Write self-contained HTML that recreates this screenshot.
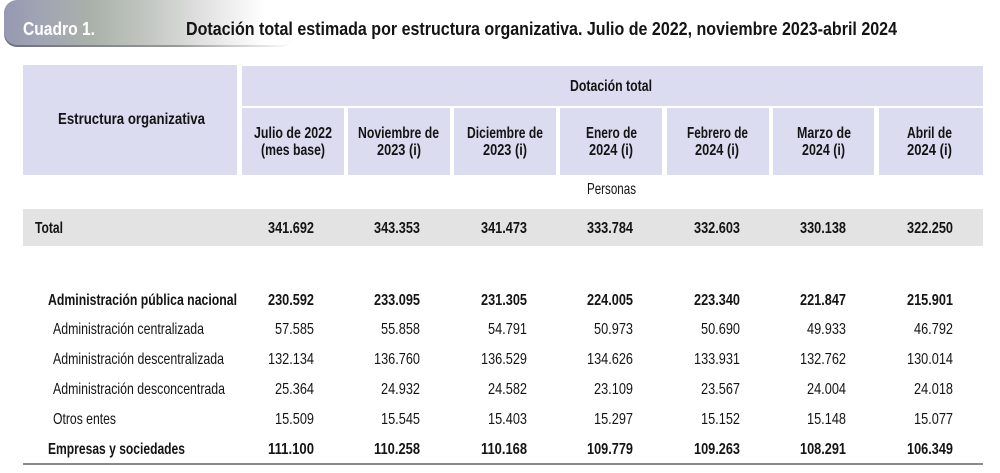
<!DOCTYPE html>
<html>
<head>
<meta charset="utf-8">
<style>
html,body{margin:0;padding:0;background:#fff;}
svg{display:block;}
text{font-family:"Liberation Sans",Arial,sans-serif;fill:#141414;}
.b{font-weight:bold;}
</style>
</head>
<body>
<svg width="1000" height="473" viewBox="0 0 1000 473" xmlns="http://www.w3.org/2000/svg">
<defs>
<linearGradient id="bn" x1="0" y1="0" x2="1" y2="0">
<stop offset="0" stop-color="#9699b0"/>
<stop offset="0.12" stop-color="#a0a4b4"/>
<stop offset="0.3" stop-color="#a9b1a9"/>
<stop offset="0.5" stop-color="#c3c7c3"/>
<stop offset="0.72" stop-color="#e6e6e6"/>
<stop offset="0.9" stop-color="#ffffff"/>
<stop offset="1" stop-color="#ffffff"/>
</linearGradient>
<linearGradient id="sh" x1="0" y1="0" x2="1" y2="0">
<stop offset="0" stop-color="#6e7080"/>
<stop offset="0.6" stop-color="#9a9a9a"/>
<stop offset="1" stop-color="#ffffff"/>
</linearGradient>
</defs>

<!-- banner -->
<rect x="4" y="1" width="290" height="46" rx="13" ry="13" fill="url(#sh)"/>
<rect x="4" y="0" width="290" height="45" rx="13" ry="13" fill="url(#bn)"/>
<text x="23" y="35" font-size="18" class="b" style="fill:#ffffff" textLength="72" lengthAdjust="spacingAndGlyphs">Cuadro 1.</text>
<text x="186" y="35" font-size="18" class="b" textLength="711" lengthAdjust="spacingAndGlyphs">Dotación total estimada por estructura organizativa. Julio de 2022, noviembre 2023-abril 2024</text>

<!-- header cells -->
<g fill="#dcdcf0">
<rect x="23" y="65" width="214" height="110"/>
<rect x="242" y="66" width="741" height="40"/>
<rect x="242" y="108" width="102" height="67"/>
<rect x="348" y="108" width="102" height="67"/>
<rect x="454" y="108" width="102" height="67"/>
<rect x="560" y="108" width="102" height="67"/>
<rect x="667" y="108" width="102" height="67"/>
<rect x="773" y="108" width="101" height="67"/>
<rect x="879" y="108" width="104" height="67"/>
</g>

<text x="58" y="124" font-size="16" class="b" textLength="147" lengthAdjust="spacingAndGlyphs">Estructura organizativa</text>
<text x="570" y="91" font-size="16" class="b" textLength="82" lengthAdjust="spacingAndGlyphs">Dotación total</text>

<g font-size="16" class="b">
<text x="254" y="138" class="b" textLength="78" lengthAdjust="spacingAndGlyphs">Julio de 2022</text>
<text x="261" y="155" class="b" textLength="64" lengthAdjust="spacingAndGlyphs">(mes base)</text>
<text x="358" y="138" class="b" textLength="81" lengthAdjust="spacingAndGlyphs">Noviembre de</text>
<text x="377" y="155" class="b" textLength="44" lengthAdjust="spacingAndGlyphs">2023 (i)</text>
<text x="467" y="138" class="b" textLength="76" lengthAdjust="spacingAndGlyphs">Diciembre de</text>
<text x="483" y="155" class="b" textLength="44" lengthAdjust="spacingAndGlyphs">2023 (i)</text>
<text x="586" y="138" class="b" textLength="51" lengthAdjust="spacingAndGlyphs">Enero de</text>
<text x="589" y="155" class="b" textLength="44" lengthAdjust="spacingAndGlyphs">2024 (i)</text>
<text x="687" y="138" class="b" textLength="61" lengthAdjust="spacingAndGlyphs">Febrero de</text>
<text x="695" y="155" class="b" textLength="44" lengthAdjust="spacingAndGlyphs">2024 (i)</text>
<text x="797" y="138" class="b" textLength="54" lengthAdjust="spacingAndGlyphs">Marzo de</text>
<text x="802" y="155" class="b" textLength="43" lengthAdjust="spacingAndGlyphs">2024 (i)</text>
<text x="907" y="138" class="b" textLength="45" lengthAdjust="spacingAndGlyphs">Abril de</text>
<text x="907" y="155" class="b" textLength="45" lengthAdjust="spacingAndGlyphs">2024 (i)</text>
</g>

<text x="587" y="194" font-size="16" textLength="49" lengthAdjust="spacingAndGlyphs">Personas</text>

<!-- total row -->
<rect x="23" y="209" width="960" height="37" fill="#e3e3e3"/>
<text x="35" y="233" font-size="16" class="b" textLength="28" lengthAdjust="spacingAndGlyphs">Total</text>
<g font-size="16" class="b">
<text x="268" y="233" class="b" textLength="46" lengthAdjust="spacingAndGlyphs">341.692</text>
<text x="374" y="233" class="b" textLength="46" lengthAdjust="spacingAndGlyphs">343.353</text>
<text x="481" y="233" class="b" textLength="46" lengthAdjust="spacingAndGlyphs">341.473</text>
<text x="587" y="233" class="b" textLength="46" lengthAdjust="spacingAndGlyphs">333.784</text>
<text x="694" y="233" class="b" textLength="46" lengthAdjust="spacingAndGlyphs">332.603</text>
<text x="800" y="233" class="b" textLength="46" lengthAdjust="spacingAndGlyphs">330.138</text>
<text x="907" y="233" class="b" textLength="46" lengthAdjust="spacingAndGlyphs">322.250</text>
</g>

<!-- APN -->
<text x="48" y="305" font-size="16" class="b" textLength="189" lengthAdjust="spacingAndGlyphs">Administración pública nacional</text>
<g font-size="16">
<text x="268" y="305" class="b" textLength="46" lengthAdjust="spacingAndGlyphs">230.592</text>
<text x="374" y="305" class="b" textLength="46" lengthAdjust="spacingAndGlyphs">233.095</text>
<text x="481" y="305" class="b" textLength="46" lengthAdjust="spacingAndGlyphs">231.305</text>
<text x="587" y="305" class="b" textLength="46" lengthAdjust="spacingAndGlyphs">224.005</text>
<text x="694" y="305" class="b" textLength="46" lengthAdjust="spacingAndGlyphs">223.340</text>
<text x="800" y="305" class="b" textLength="46" lengthAdjust="spacingAndGlyphs">221.847</text>
<text x="907" y="305" class="b" textLength="46" lengthAdjust="spacingAndGlyphs">215.901</text>
</g>

<!-- sub rows -->
<g font-size="16">
<text x="53" y="334" textLength="151" lengthAdjust="spacingAndGlyphs">Administración centralizada</text>
<text x="275" y="334" textLength="39" lengthAdjust="spacingAndGlyphs">57.585</text>
<text x="381" y="334" textLength="39" lengthAdjust="spacingAndGlyphs">55.858</text>
<text x="488" y="334" textLength="39" lengthAdjust="spacingAndGlyphs">54.791</text>
<text x="594" y="334" textLength="39" lengthAdjust="spacingAndGlyphs">50.973</text>
<text x="701" y="334" textLength="39" lengthAdjust="spacingAndGlyphs">50.690</text>
<text x="807" y="334" textLength="39" lengthAdjust="spacingAndGlyphs">49.933</text>
<text x="914" y="334" textLength="39" lengthAdjust="spacingAndGlyphs">46.792</text>

<text x="53" y="364" textLength="171" lengthAdjust="spacingAndGlyphs">Administración descentralizada</text>
<text x="268" y="364" textLength="46" lengthAdjust="spacingAndGlyphs">132.134</text>
<text x="374" y="364" textLength="46" lengthAdjust="spacingAndGlyphs">136.760</text>
<text x="481" y="364" textLength="46" lengthAdjust="spacingAndGlyphs">136.529</text>
<text x="587" y="364" textLength="46" lengthAdjust="spacingAndGlyphs">134.626</text>
<text x="694" y="364" textLength="46" lengthAdjust="spacingAndGlyphs">133.931</text>
<text x="800" y="364" textLength="46" lengthAdjust="spacingAndGlyphs">132.762</text>
<text x="907" y="364" textLength="46" lengthAdjust="spacingAndGlyphs">130.014</text>

<text x="53" y="394" textLength="172" lengthAdjust="spacingAndGlyphs">Administración desconcentrada</text>
<text x="275" y="394" textLength="39" lengthAdjust="spacingAndGlyphs">25.364</text>
<text x="381" y="394" textLength="39" lengthAdjust="spacingAndGlyphs">24.932</text>
<text x="488" y="394" textLength="39" lengthAdjust="spacingAndGlyphs">24.582</text>
<text x="594" y="394" textLength="39" lengthAdjust="spacingAndGlyphs">23.109</text>
<text x="701" y="394" textLength="39" lengthAdjust="spacingAndGlyphs">23.567</text>
<text x="807" y="394" textLength="39" lengthAdjust="spacingAndGlyphs">24.004</text>
<text x="914" y="394" textLength="39" lengthAdjust="spacingAndGlyphs">24.018</text>

<text x="53" y="424" textLength="63" lengthAdjust="spacingAndGlyphs">Otros entes</text>
<text x="275" y="424" textLength="39" lengthAdjust="spacingAndGlyphs">15.509</text>
<text x="381" y="424" textLength="39" lengthAdjust="spacingAndGlyphs">15.545</text>
<text x="488" y="424" textLength="39" lengthAdjust="spacingAndGlyphs">15.403</text>
<text x="594" y="424" textLength="39" lengthAdjust="spacingAndGlyphs">15.297</text>
<text x="701" y="424" textLength="39" lengthAdjust="spacingAndGlyphs">15.152</text>
<text x="807" y="424" textLength="39" lengthAdjust="spacingAndGlyphs">15.148</text>
<text x="914" y="424" textLength="39" lengthAdjust="spacingAndGlyphs">15.077</text>
</g>

<!-- empresas -->
<g font-size="16">
<text x="48" y="454" class="b" textLength="137" lengthAdjust="spacingAndGlyphs">Empresas y sociedades</text>
<text x="268" y="454" class="b" textLength="46" lengthAdjust="spacingAndGlyphs">111.100</text>
<text x="374" y="454" class="b" textLength="46" lengthAdjust="spacingAndGlyphs">110.258</text>
<text x="481" y="454" class="b" textLength="46" lengthAdjust="spacingAndGlyphs">110.168</text>
<text x="587" y="454" class="b" textLength="46" lengthAdjust="spacingAndGlyphs">109.779</text>
<text x="694" y="454" class="b" textLength="46" lengthAdjust="spacingAndGlyphs">109.263</text>
<text x="800" y="454" class="b" textLength="46" lengthAdjust="spacingAndGlyphs">108.291</text>
<text x="907" y="454" class="b" textLength="46" lengthAdjust="spacingAndGlyphs">106.349</text>
</g>

<rect x="23" y="463" width="960" height="2" fill="#8a8a8a"/>
</svg>
</body>
</html>
